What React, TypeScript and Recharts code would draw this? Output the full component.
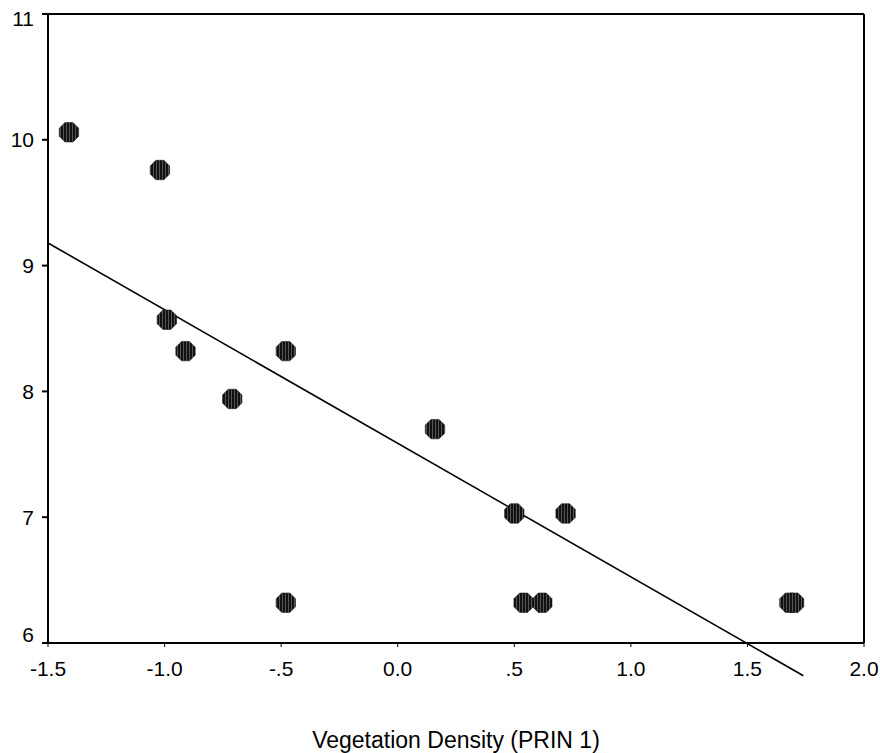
import React from 'react';
import { ScatterChart, Scatter, XAxis, YAxis, ReferenceLine } from 'recharts';

// values
const densityX = [-1.41, -1.02, -0.99, -0.91, -0.71, -0.48, -0.48, 0.16, 0.5, 0.72, 0.54, 0.62, 1.68, 1.7];
const responseY = [10.06, 9.76, 8.57, 8.32, 7.94, 8.32, 6.32, 7.7, 7.03, 7.03, 6.32, 6.32, 6.32, 6.32];
const xTicks = [-1.5, -1.0, -0.5, 0, 0.5, 1.0, 1.5, 2.0];
const xTickLabels = ['-1.5', '-1.0', '-.5', '0.0', '.5', '1.0', '1.5', '2.0'];
const yTicks = [6, 7, 8, 9, 10, 11];
const fitLine = [
  { x: -1.5, y: 9.18 },
  { x: 1.74, y: 5.74 },
];

const points = densityX.map((x, i) => ({ x, y: responseY[i] }));

const FONT = '"Liberation Sans", Arial, sans-serif';

const Octagon = (props: any) => {
  const { cx, cy } = props;
  const r = 10.5;
  const pts = Array.from({ length: 8 }, (_, i) => {
    const a = Math.PI / 8 + (i * Math.PI) / 4;
    return `${cx + r * Math.cos(a)},${cy + r * Math.sin(a)}`;
  }).join(' ');
  return <polygon points={pts} fill="url(#hatch)" stroke="#1a1a1a" strokeWidth={0.6} />;
};

const XTick = (props: any) => {
  const { x, y, payload } = props;
  const idx = xTicks.indexOf(payload.value);
  return (
    <text x={x} y={y + 27} textAnchor="middle" fontSize={21} fontFamily={FONT} fill="#000">
      {idx >= 0 ? xTickLabels[idx] : payload.value}
    </text>
  );
};

const YTick = (props: any) => {
  const { x, y, payload } = props;
  // the end labels sit a bit inside the frame
  const shift = payload.value === 11 ? 5 : payload.value === 6 ? -8 : 0;
  return (
    <text x={x - 6} y={y + shift} dy="0.355em" textAnchor="end" fontSize={21} fontFamily={FONT} fill="#000">
      {payload.value}
    </text>
  );
};

export default function App() {
  return (
    <div style={{ width: 880, height: 753, padding: '8px 0 0 8px', boxSizing: 'border-box' }}>
      <style>{'html, body { margin: 0; overflow: hidden; }'}</style>
      <ScatterChart width={872} height={745} margin={{ top: 6, right: 16, left: 0, bottom: 0 }}>
        <defs>
          <pattern id="hatch" width={3} height={3} patternUnits="userSpaceOnUse">
            <rect width={3} height={3} fill="#111" />
            <rect x={1} width={1} height={3} fill="#555" />
          </pattern>
        </defs>
        <XAxis
          type="number"
          dataKey="x"
          domain={[-1.5, 2]}
          ticks={xTicks}
          interval={0}
          allowDataOverflow
          height={110}
          tickSize={4}
          axisLine={{ stroke: '#000', strokeWidth: 2 }}
          tickLine={{ stroke: '#000', strokeWidth: 1 }}
          tick={<XTick />}
          label={{
            value: 'Vegetation Density (PRIN 1)',
            position: 'insideBottom',
            offset: 5,
            fontSize: 23,
            fontFamily: FONT,
            fill: '#000',
          }}
        />
        <YAxis
          type="number"
          dataKey="y"
          domain={[6, 11]}
          ticks={yTicks}
          interval={0}
          allowDataOverflow
          width={40}
          tickSize={6}
          axisLine={{ stroke: '#000', strokeWidth: 2 }}
          tickLine={{ stroke: '#000', strokeWidth: 2 }}
          tick={<YTick />}
        />
        <ReferenceLine y={11} stroke="#000" strokeWidth={2} />
        <ReferenceLine x={2} stroke="#000" strokeWidth={2} />
        <ReferenceLine segment={fitLine} stroke="#000" strokeWidth={1.6} ifOverflow="visible" />
        <Scatter data={points} shape={<Octagon />} isAnimationActive={false} />
      </ScatterChart>
    </div>
  );
}
